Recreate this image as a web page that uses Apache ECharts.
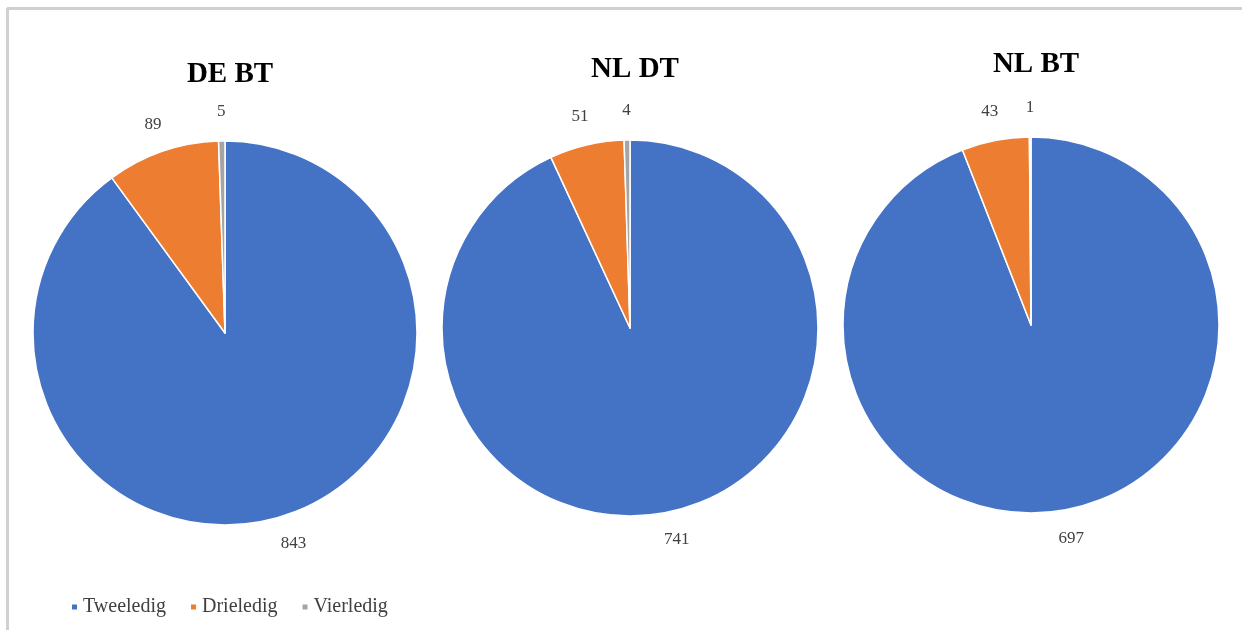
<!DOCTYPE html>
<html><head><meta charset="utf-8">
<script src="https://cdn.jsdelivr.net/npm/echarts@6/dist/echarts.min.js"></script>
<style>html,body{margin:0;padding:0;background:#fff}#c{width:1242px;height:630px}</style>
</head><body><div id="c"></div>
<script>
const categories = ['Tweeledig', 'Drieledig', 'Vierledig'];
const titles = ['DE BT', 'NL DT', 'NL BT'];
const deBT = [843, 89, 5];
const nlDT = [741, 51, 4];
const nlBT = [697, 43, 1];
const colors = ['#4472C4', '#ED7D31', '#A5A5A5'];

const seriesData = [deBT, nlDT, nlBT];
const centers = [[225, 333], [630, 328], [1031, 325]];
const radii = [192, 188, 188];
const labelGap = 26;
const titleY = [55, 50, 45];
const serif = '"Liberation Serif", "Times New Roman", serif';

const pies = [];
seriesData.forEach((vals, i) => {
  const data = vals.map((v, j) => ({name: categories[j], value: v}));
  pies.push({
    type: 'pie', center: centers[i], radius: [0, radii[i]],
    startAngle: 90, clockwise: true,
    itemStyle: {borderColor: '#fff', borderWidth: 1.5},
    label: {show: false}, labelLine: {show: false},
    emphasis: {disabled: true}, silent: true,
    data: data
  });
  // invisible ring that only carries the value labels, centred just outside the pie
  pies.push({
    type: 'pie', center: centers[i], radius: [radii[i], radii[i] + 2 * labelGap],
    startAngle: 90, clockwise: true,
    itemStyle: {color: 'rgba(0,0,0,0)', borderWidth: 0},
    label: {show: true, position: 'inside', formatter: '{c}',
      fontFamily: serif, fontSize: 17, color: '#404040'},
    labelLine: {show: false},
    emphasis: {disabled: true}, silent: true,
    legendHoverLink: false,
    data: data
  });
});

const chart = echarts.init(document.getElementById('c'), null, {renderer: 'canvas'});
chart.setOption({
  animation: false,
  color: colors,
  title: titles.map((t, i) => ({
    text: t, left: centers[i][0], top: titleY[i], textAlign: 'center',
    textStyle: {fontFamily: serif, fontWeight: 'bold', fontSize: 29, color: '#000'}
  })),
  legend: {
    data: categories.map((c, j) => ({name: c, itemStyle: {color: colors[j]}})),
    left: 65, top: 592, itemWidth: 7, itemHeight: 7, itemGap: 23,
    icon: 'rect',
    textStyle: {fontFamily: serif, fontSize: 20, color: '#404040'}
  },
  graphic: [
    {type: 'line', shape: {x1: 7, y1: 8.5, x2: 1242, y2: 8.5}, style: {stroke: '#D0D0D0', lineWidth: 3}},
    {type: 'line', shape: {x1: 7.5, y1: 8, x2: 7.5, y2: 630}, style: {stroke: '#D0D0D0', lineWidth: 3}}
  ],
  series: pies
});
</script></body></html>
